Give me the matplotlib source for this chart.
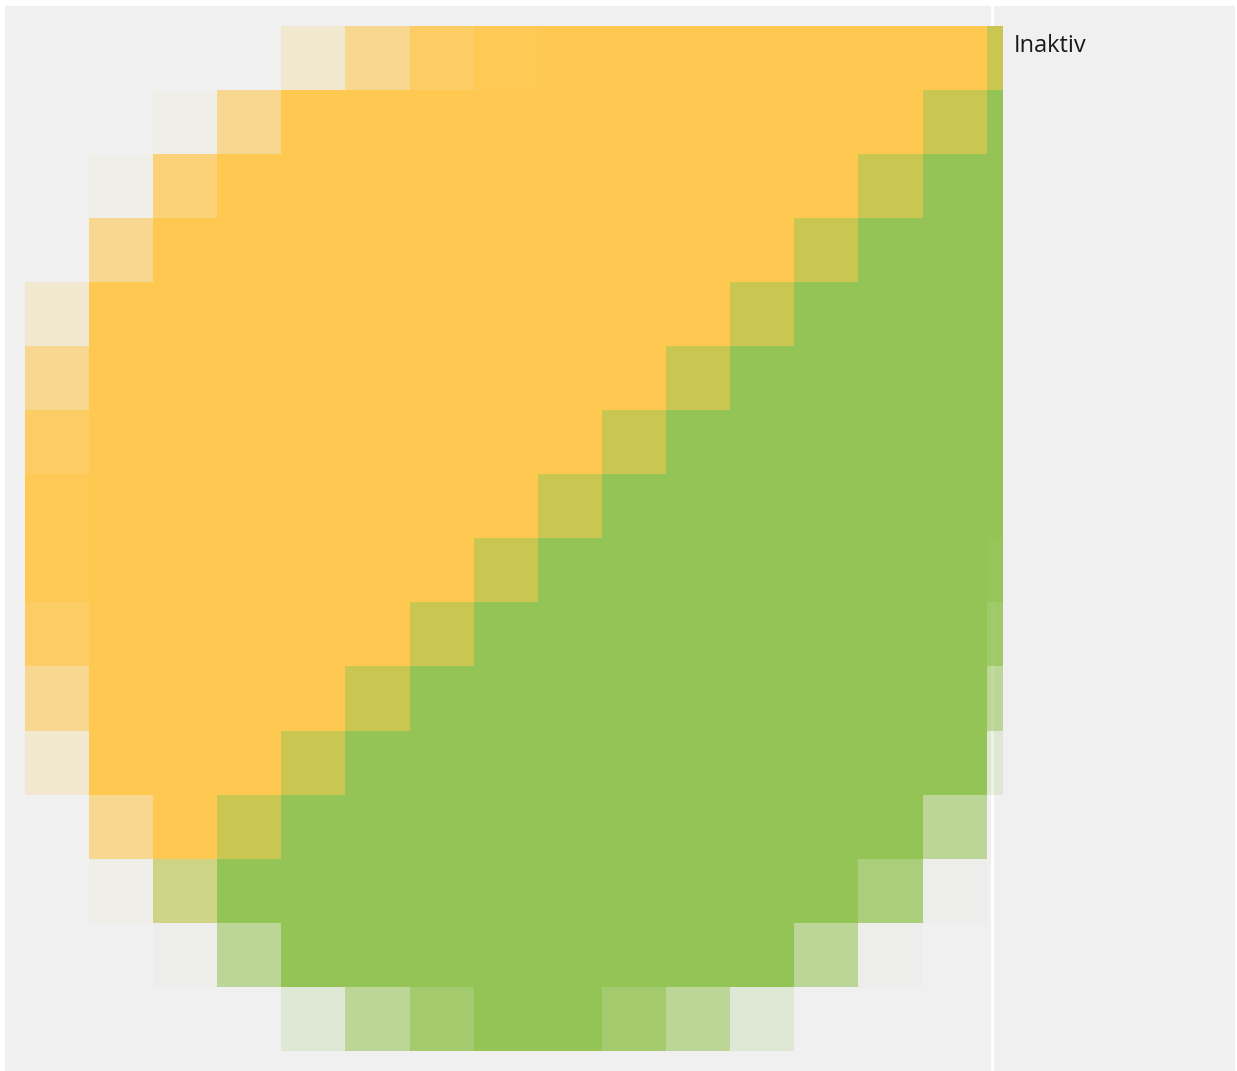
import numpy as np
import matplotlib
matplotlib.use("Agg")
import matplotlib.pyplot as plt
from matplotlib.colors import to_rgb
from matplotlib.lines import Line2D

# two slices, drawn as a coarse 16x16 raster (upscaled pie)
series_names = ["Aktiv", "Inaktiv"]
series_colors = ["#FFC850", "#94C455"]
legend_labels = ["Inaktiv"]

# one character per cell
cell_rows = [
    "....abcdYYYYYYYM",
    "..fbYYYYYYYYYYMG",
    ".feYYYYYYYYYYMGG",
    ".bYYYYYYYYYYMGGG",
    "aYYYYYYYYYYMGGGG",
    "bYYYYYYYYYMGGGGG",
    "cYYYYYYYYMGGGGGG",
    "dYYYYYYYMGGGGGGG",
    "dYYYYYYMGGGGGGGl",
    "cYYYYYMGGGGGGGGn",
    "bYYYYMGGGGGGGGGh",
    "aYYYMGGGGGGGGGGg",
    ".bYMGGGGGGGGGGh.",
    ".fmGGGGGGGGGGjk.",
    "..khGGGGGGGGhk..",
    "....ghiGGihg....",
]

# cell code -> (coverage of first slice, coverage of second slice)
cell_cover = {
    ".": (0.0, 0.0),
    "Y": (1.0, 0.0),
    "G": (0.0, 1.0),
    "M": (0.5, 0.5),
    "a": (0.2, 0.0),
    "b": (0.6, 0.0),
    "c": (0.87, 0.0),
    "d": (0.97, 0.0),
    "e": (0.75, 0.0),
    "f": (0.05, 0.0),
    "m": (0.27, 0.40),
    "g": (0.0, 0.18),
    "h": (0.0, 0.58),
    "i": (0.0, 0.84),
    "j": (0.0, 0.76),
    "k": (0.0, 0.03),
    "l": (0.0, 0.97),
    "n": (0.0, 0.87),
}

W, H = 1237, 1071
bg = "#F0F0F0"

fig = plt.figure(figsize=(W / 100, H / 100), dpi=100, facecolor="white")

def px_axes(x0, y0, x1, y1, **kw):
    # axes from pixel box (top-left origin)
    return fig.add_axes([x0 / W, 1 - y1 / H, (x1 - x0) / W, (y1 - y0) / H], **kw)

panel = px_axes(5, 6, 1235, H, facecolor=bg, zorder=0)
panel.set_xticks([])
panel.set_yticks([])
for s in panel.spines.values():
    s.set_visible(False)

# white divider between plot and legend area
fig.add_artist(Line2D([992 / W, 992 / W], [0, 1 - 6 / H], transform=fig.transFigure,
                      color="white", lw=2, zorder=1))

# build RGBA raster
c1 = np.array(to_rgb(series_colors[0]))
c2 = np.array(to_rgb(series_colors[1]))
n = len(cell_rows)
img = np.zeros((n, n, 4))
for r, row in enumerate(cell_rows):
    for c, ch in enumerate(row):
        a1, a2 = cell_cover[ch]
        alpha = a1 + a2
        if alpha > 0:
            img[r, c, :3] = (a1 * c1 + a2 * c2) / alpha
        img[r, c, 3] = alpha

cell = 64.13
ax = px_axes(25, 26, 1003, 1051, zorder=3)
ax.patch.set_visible(False)
ax.imshow(img, interpolation="nearest", extent=(0, n, n, 0), aspect="auto")
ax.set_xlim(0, (1003 - 25) / cell)
ax.set_ylim(n, 0)
ax.axis("off")

fig.text(1014 / W, 1 - 46 / H, legend_labels[0], fontsize=17, family="Open Sans",
         color="#1a1a1a", va="center", ha="left", zorder=4)

fig.savefig("out.png", dpi=100, facecolor="white")
